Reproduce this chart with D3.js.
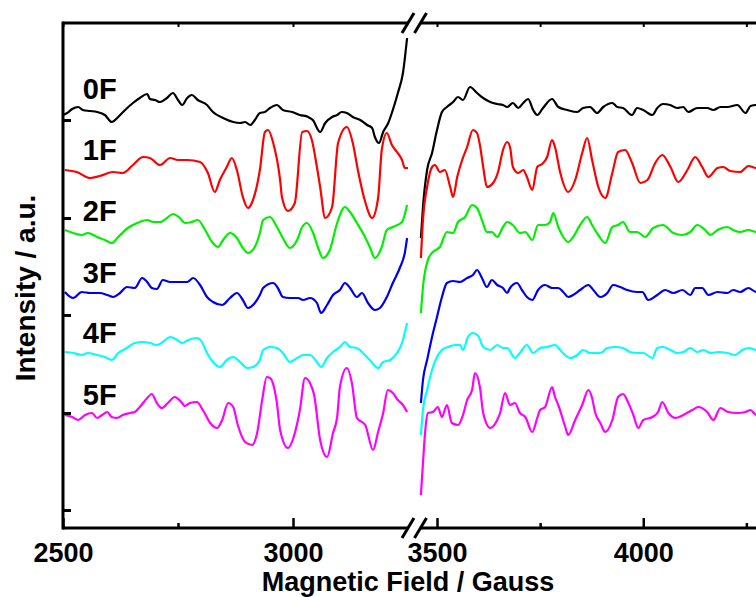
<!DOCTYPE html>
<html>
<head>
<meta charset="utf-8">
<script src="https://cdn.jsdelivr.net/npm/d3@7"></script>
<style>
body { margin: 0; background: #fff; }
svg text { font-family: "Liberation Sans", Arial, sans-serif; font-weight: bold; }
</style>
</head>
<body>
<div id="chart"></div>
<script>
// spectra: [field (Gauss), intensity (a.u., offset per trace)]
var s0F = [[2500,413],[2509,415],[2520,419],[2533,421],[2543,418],[2559,417],[2574,416],[2591,413],[2606,406],[2620,411],
  [2635,418],[2652,425],[2667,430],[2683,434],[2689,429],[2700,428],[2711,426],[2726,430],[2739,435],[2750,428],
  [2759,423],[2770,430],[2780,433],[2793,428],[2813,423],[2826,416],[2848,410],[2870,406],[2885,405],[2896,406],
  [2907,403],[2917,408],[2928,415],[2939,416],[2950,420],[2965,423],[2978,418],[2998,416],[3015,413],[3033,411],
  [3043,408],[3059,396],[3070,405],[3085,411],[3096,413],[3106,416],[3117,415],[3130,411],[3146,408],[3161,403],
  [3172,400],[3178,391],[3187,385],[3196,396],[3207,405],[3217,418],[3228,435],[3239,455],[3248,490],
  [3461,290],[3466,321],[3476,358],[3488,375],[3500,398],[3512,416],[3524,421],[3539,426],[3551,431],[3563,428],
  [3580,441],[3597,435],[3612,430],[3629,426],[3646,424],[3660,423],[3670,421],[3684,425],[3697,420],[3709,425],
  [3721,429],[3733,418],[3743,413],[3757,420],[3779,429],[3794,421],[3816,418],[3840,416],[3854,420],[3871,421],
  [3888,415],[3903,421],[3925,425],[3937,421],[3951,420],[3973,413],[3985,420],[4000,418],[4022,413],[4034,420],
  [4048,424],[4065,423],[4082,420],[4097,421],[4109,416],[4131,420],[4155,420],[4170,418],[4187,421],[4204,421],
  [4228,423],[4248,415],[4260,422],[4274,423],[4296,420]];

var s1F = [[2504,358],[2530,356],[2559,350],[2580,352],[2609,356],[2630,355],[2652,363],[2674,371],[2689,370],[2711,363],
  [2733,370],[2750,368],[2770,368],[2798,366],[2815,355],[2830,336],[2841,348],[2856,361],[2867,370],[2878,358],
  [2891,331],[2902,320],[2913,328],[2928,358],[2939,396],[2946,398],[2957,385],[2972,348],[2976,331],[2989,317],
  [3004,325],[3020,396],[3030,397],[3041,388],[3052,361],[3059,341],[3070,310],[3085,321],[3098,385],[3117,401],
  [3130,385],[3141,358],[3157,326],[3172,310],[3185,330],[3193,378],[3204,395],[3215,383],[3226,376],[3237,368],
  [3243,360],[3250,360],
  [3461,270],[3466,308],[3476,341],[3488,361],[3495,363],[3507,356],[3519,358],[3532,341],[3539,331],[3549,351],
  [3561,368],[3573,381],[3587,398],[3597,395],[3604,383],[3612,361],[3621,341],[3636,345],[3648,356],[3660,378],
  [3670,386],[3677,381],[3684,361],[3697,355],[3709,358],[3718,351],[3731,338],[3743,361],[3755,364],[3767,371],
  [3779,388],[3786,381],[3799,355],[3818,336],[3835,348],[3852,375],[3864,390],[3876,368],[3891,341],[3908,330],
  [3925,355],[3939,376],[3956,378],[3973,365],[3993,345],[4010,348],[4029,365],[4046,373],[4066,361],[4085,346],
  [4107,358],[4126,371],[4143,361],[4158,351],[4180,360],[4194,361],[4211,357],[4235,356],[4255,362],[4274,360],
  [4296,360]];

var s2F = [[2504,298],[2522,295],[2541,293],[2554,295],[2574,291],[2591,288],[2606,285],[2620,291],[2641,300],[2661,305],
  [2683,308],[2696,306],[2711,306],[2726,310],[2739,314],[2754,310],[2765,305],[2780,306],[2793,308],[2809,298],
  [2824,286],[2837,281],[2848,288],[2863,295],[2878,290],[2891,280],[2902,275],[2917,281],[2928,295],[2935,308],
  [2950,311],[2965,301],[2978,290],[2993,280],[3009,288],[3020,301],[3030,305],[3043,296],[3054,281],[3065,270],
  [3080,278],[3096,305],[3113,321],[3124,316],[3139,305],[3152,295],[3167,281],[3178,270],[3193,281],[3204,298],
  [3217,301],[3237,306],[3248,323],
  [3461,215],[3466,241],[3478,268],[3490,276],[3507,281],[3524,296],[3539,295],[3551,306],[3568,311],[3585,323],
  [3597,320],[3609,308],[3621,296],[3633,296],[3646,291],[3660,301],[3670,306],[3684,303],[3701,295],[3714,296],
  [3731,288],[3745,303],[3762,303],[3774,306],[3782,315],[3794,301],[3806,291],[3818,286],[3830,291],[3847,303],
  [3864,311],[3876,303],[3891,293],[3908,285],[3925,301],[3939,303],[3951,306],[3968,296],[3985,296],[4005,291],
  [4024,300],[4048,303],[4073,295],[4095,293],[4114,296],[4131,303],[4150,298],[4163,293],[4180,298],[4204,301],
  [4218,298],[4235,296],[4255,298],[4274,296],[4296,298]];

var s3F = [[2504,236],[2522,230],[2541,236],[2559,235],[2580,235],[2596,233],[2609,231],[2624,235],[2639,241],[2656,240],
  [2672,250],[2683,246],[2693,240],[2704,239],[2717,248],[2733,246],[2750,246],[2770,246],[2783,250],[2798,243],
  [2813,231],[2826,226],[2846,223],[2863,230],[2878,235],[2891,228],[2902,220],[2917,225],[2928,233],[2935,240],
  [2957,245],[2967,240],[2978,231],[2993,230],[3011,230],[3022,228],[3037,230],[3052,225],[3061,215],[3074,223],
  [3087,233],[3102,238],[3113,245],[3124,240],[3139,231],[3150,235],[3163,225],[3178,218],[3189,220],[3204,231],
  [3217,245],[3233,261],[3243,275],[3248,290],
  [3461,125],[3466,148],[3476,168],[3488,191],[3500,211],[3512,231],[3524,245],[3539,247],[3556,246],[3573,250],
  [3587,253],[3597,258],[3609,250],[3621,241],[3633,248],[3646,243],[3660,240],[3670,235],[3677,240],[3694,245],
  [3706,238],[3718,231],[3731,228],[3745,238],[3762,243],[3779,240],[3794,240],[3806,236],[3818,231],[3830,233],
  [3847,238],[3867,243],[3879,238],[3896,231],[3913,235],[3927,243],[3944,241],[3961,238],[3985,236],[3998,236],
  [4012,228],[4034,233],[4053,238],[4073,235],[4095,238],[4114,233],[4126,240],[4143,240],[4158,233],[4180,236],
  [4204,235],[4218,238],[4235,236],[4255,240],[4274,236],[4296,238]];

var s4F = [[2504,176],[2522,175],[2541,173],[2554,175],[2574,173],[2591,171],[2606,168],[2620,175],[2639,180],[2656,185],
  [2674,186],[2689,185],[2704,183],[2717,186],[2733,191],[2748,188],[2759,185],[2772,188],[2791,190],[2802,186],
  [2813,175],[2826,166],[2841,161],[2856,168],[2870,171],[2885,166],[2900,160],[2913,161],[2928,168],[2935,178],
  [2950,181],[2965,180],[2978,175],[2993,166],[3009,170],[3022,173],[3037,173],[3052,166],[3061,161],[3074,170],
  [3087,176],[3102,181],[3113,186],[3124,181],[3139,180],[3152,175],[3167,168],[3185,160],[3196,166],[3211,168],
  [3226,175],[3237,185],[3248,205],
  [3461,93],[3466,118],[3476,138],[3488,158],[3500,171],[3512,178],[3527,181],[3544,183],[3556,183],[3563,178],
  [3575,191],[3587,195],[3600,192],[3612,181],[3629,178],[3646,183],[3660,180],[3670,180],[3689,170],[3701,175],
  [3718,183],[3733,175],[3750,180],[3767,181],[3786,183],[3803,176],[3823,170],[3840,173],[3854,178],[3871,175],
  [3896,175],[3913,180],[3932,181],[3951,180],[3968,176],[3985,175],[4000,175],[4022,170],[4034,180],[4048,181],
  [4066,178],[4082,175],[4097,176],[4114,180],[4131,176],[4146,178],[4163,175],[4182,176],[4204,175],[4223,173],
  [4240,178],[4257,180],[4274,178],[4296,178]];

var s5F = [[2504,113],[2520,111],[2533,108],[2548,113],[2563,115],[2574,110],[2585,113],[2596,116],[2606,111],[2617,110],
  [2630,113],[2646,115],[2656,116],[2667,121],[2683,130],[2693,134],[2704,125],[2715,120],[2728,125],[2743,131],
  [2759,125],[2765,122],[2776,125],[2791,126],[2804,118],[2820,105],[2835,100],[2846,108],[2859,125],[2870,121],
  [2880,103],[2896,86],[2911,83],[2922,95],[2933,128],[2943,151],[2950,150],[2965,125],[2972,98],[2989,80],
  [3004,95],[3015,118],[3026,150],[3037,145],[3046,133],[3059,88],[3074,71],[3087,95],[3096,111],[3102,141],
  [3117,160],[3128,145],[3139,110],[3157,103],[3174,78],[3185,96],[3196,115],[3206,138],[3217,135],[3228,128],
  [3239,123],[3248,116],
  [3461,33],[3466,65],[3471,95],[3478,115],[3490,116],[3502,121],[3512,111],[3524,123],[3536,105],[3551,103],
  [3563,113],[3573,128],[3585,138],[3592,155],[3604,141],[3612,115],[3629,100],[3646,108],[3653,115],[3665,135],
  [3677,123],[3689,125],[3701,115],[3714,111],[3731,96],[3743,110],[3750,118],[3762,121],[3779,141],[3786,131],
  [3794,123],[3811,101],[3818,93],[3835,108],[3852,123],[3867,138],[3876,130],[3883,116],[3896,105],[3908,96],
  [3925,108],[3939,131],[3951,134],[3964,125],[3976,113],[3988,100],[4000,108],[4022,111],[4036,116],[4046,126],
  [4061,115],[4078,110],[4097,113],[4119,118],[4133,121],[4155,116],[4170,108],[4187,120],[4206,116],[4228,115],
  [4248,116],[4260,118],[4274,113],[4296,116]];

var series = [s0F, s1F, s2F, s3F, s4F, s5F];
var labels = ["0F", "1F", "2F", "3F", "4F", "5F"];
var colors = ["#000000", "#ff0000", "#00f000", "#0000ee", "#00ffff", "#ff00ff"];
var labelLevels = [429, 368, 307, 245, 185, 123];   // intensity where each label sits
var labelField = 2543;

var majorLeft = [2500, 3000], minorLeft = [2750];
var majorRight = [3500, 4000], minorRight = [3750, 4250];
var yTicks = [18, 115, 213, 310, 408];

// sizes
var W = 756, H = 597;
var plotTop = 23, plotBottom = 528, plotLeft = 63;
var breakA = 408, breakB = 420.5, plotRight = 767;

var svg = d3.select("#chart").append("svg")
    .attr("width", W)
    .attr("height", H);

var xLeft = d3.scaleLinear().domain([2500, 3250]).range([plotLeft, breakA]);
var xRight = d3.scaleLinear().domain([3460, 4300]).range([breakB, plotRight]);
var y = d3.scaleLinear().domain([0, 505]).range([plotBottom, plotTop]);

// traces, split at the axis break
var lineL = d3.line().x(function(d) { return xLeft(d[0]); }).y(function(d) { return y(d[1]); }).curve(d3.curveMonotoneX);
var lineR = d3.line().x(function(d) { return xRight(d[0]); }).y(function(d) { return y(d[1]); }).curve(d3.curveMonotoneX);

series.forEach(function(s, i) {
    var left = s.filter(function(d) { return d[0] < 3350; });
    var right = s.filter(function(d) { return d[0] > 3350; });
    svg.append("path").datum(left)
        .attr("d", lineL).attr("fill", "none")
        .attr("stroke", colors[i]).attr("stroke-width", 2.2);
    svg.append("path").datum(right)
        .attr("d", lineR).attr("fill", "none")
        .attr("stroke", colors[i]).attr("stroke-width", 2.2);
});

// labels
svg.selectAll(".lab").data(labels).enter().append("text")
    .attr("class", "lab")
    .attr("x", xLeft(labelField))
    .attr("y", function(d, i) { return y(labelLevels[i]); })
    .attr("font-size", 29)
    .text(function(d) { return d; });

// frame
var frame = svg.append("g").attr("stroke", "#000").attr("stroke-width", 3).attr("fill", "none");
frame.append("line").attr("x1", plotLeft).attr("x2", plotLeft).attr("y1", plotTop - 1.5).attr("y2", plotBottom + 1.5);
[plotTop, plotBottom].forEach(function(yy) {
    frame.append("line").attr("x1", plotLeft).attr("x2", breakA).attr("y1", yy).attr("y2", yy);
    frame.append("line").attr("x1", breakB).attr("x2", plotRight + 20).attr("y1", yy).attr("y2", yy);
    [breakA, breakB].forEach(function(bx) {
        frame.append("line")
            .attr("x1", bx - 6).attr("y1", yy + 10)
            .attr("x2", bx + 6).attr("y2", yy - 10);
    });
});

function styleAxis(g, w) {
    g.select(".domain").remove();
    g.selectAll(".tick line").attr("stroke-width", w);
    g.selectAll("text")
        .attr("font-size", 27)
        .attr("font-family", "'Liberation Sans', Arial, sans-serif")
        .attr("font-weight", "bold");
}

// bottom axis
[[xLeft, majorLeft, minorLeft], [xRight, majorRight, minorRight]].forEach(function(a) {
    svg.append("g").attr("transform", "translate(0," + plotBottom + ")")
        .call(d3.axisBottom(a[0]).tickValues(a[1]).tickSize(-10).tickSizeOuter(0).tickPadding(15).tickFormat(d3.format("d")))
        .call(styleAxis, 2.5);
    svg.append("g").attr("transform", "translate(0," + plotBottom + ")")
        .call(d3.axisBottom(a[0]).tickValues(a[2]).tickSize(-5).tickSizeOuter(0).tickFormat(""))
        .call(styleAxis, 2.5);
    // small marks on top
    svg.append("g").attr("transform", "translate(0," + plotTop + ")")
        .call(d3.axisTop(a[0]).tickValues(a[1].concat(a[2])).tickSize(-4).tickSizeOuter(0).tickFormat(""))
        .call(styleAxis, 2);
});

// left axis
svg.append("g").attr("transform", "translate(" + plotLeft + ",0)")
    .call(d3.axisLeft(y).tickValues(yTicks).tickSize(-8).tickSizeOuter(0).tickFormat(""))
    .call(styleAxis, 3);

// titles
svg.append("text")
    .attr("x", 408).attr("y", 591)
    .attr("text-anchor", "middle")
    .attr("font-size", 27)
    .text("Magnetic Field / Gauss");

svg.append("text")
    .attr("transform", "translate(35,288) rotate(-90)")
    .attr("text-anchor", "middle")
    .attr("font-size", 28)
    .text("Intensity / a.u.");
</script>
</body>
</html>
